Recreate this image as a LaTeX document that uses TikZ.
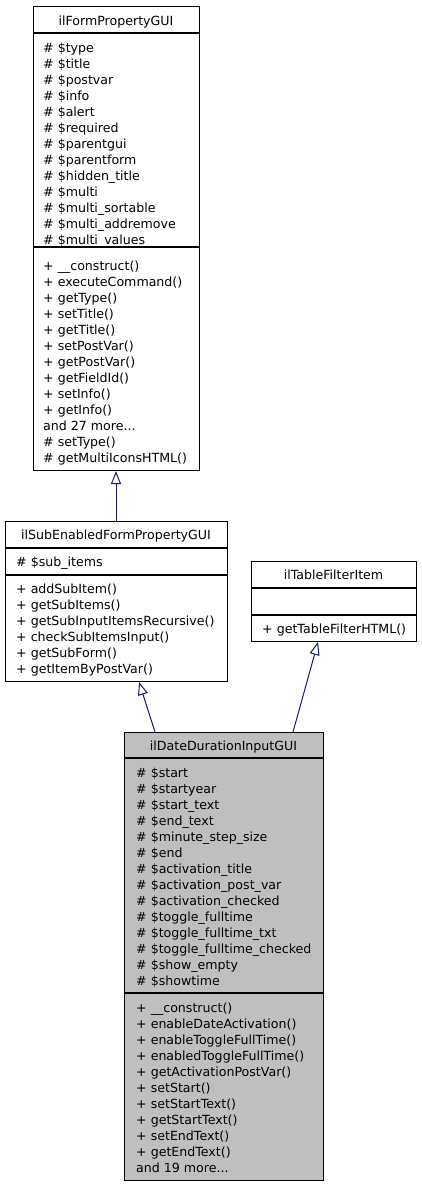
\documentclass[tikz,border=0pt]{standalone}
\usepackage{fontspec}
\setmainfont{DejaVu Sans}
\usetikzlibrary{arrows.meta,calc}
\definecolor{edgeblue}{HTML}{191970}
\definecolor{boxgray}{HTML}{BFBFBF}
\newcommand{\tdotsx}{...}
\begin{document}
\begin{tikzpicture}[x=1pt,y=-1pt,
  txt/.style={anchor=mid west, inner sep=0pt, yshift=-2.5pt, font=\fontsize{12.6}{15}\selectfont},
  ttl/.style={anchor=mid, inner sep=0pt, yshift=-2.5pt, font=\fontsize{12.6}{15}\selectfont},
  umlbox/.style={draw=black, line width=1pt, anchor=north west, inner sep=0pt},
  sepline/.style={draw=black, line width=1.3pt},
  inh/.style={draw=edgeblue, line width=1pt, -{Triangle[open,length=13pt,width=10pt]}}]
\useasboundingbox (0,0) rectangle (421,1187);

% ilFormPropertyGUI
\node[umlbox, fill=white, minimum width=166pt, minimum height=464pt] (fp) at (33,6) {};
\draw[sepline] (33,33) -- (199,33);
\draw[sepline] (33,247) -- (199,247);
\node[ttl] (fpt) at (116,20) {ilFormPropertyGUI};
\foreach \t [count=\i] in {\# \$type, \# \$title, \# \$postvar, \# \$info, \# \$alert, \# \$required, \# \$parentgui, \# \$parentform, \# \$hidden\_title, \# \$multi, \# \$multi\_sortable, \# \$multi\_addremove, \# \$multi\_values}
  \node[txt] (fpa\i) at (43,{47+16*(\i-1)}) {\t};
\foreach \t [count=\i] in {+ \_\_construct(), + executeCommand(), + getType(), + setTitle(), + getTitle(), + setPostVar(), + getPostVar(), + getFieldId(), + setInfo(), + getInfo(), and 27 more\tdotsx, \# setType(), \# getMultiIconsHTML()}
  \node[txt] (fpm\i) at (43,{265+16*(\i-1)}) {\t};

% ilSubEnabledFormPropertyGUI
\node[umlbox, fill=white, minimum width=222pt, minimum height=160pt] (se) at (5,521) {};
\draw[sepline] (5,548) -- (227,548);
\draw[sepline] (5,575) -- (227,575);
\node[ttl] (set) at (116,534) {ilSubEnabledFormPropertyGUI};
\node[txt] (sea1) at (16,561) {\# \$sub\_items};
\foreach \t [count=\i] in {+ addSubItem(), + getSubItems(), + getSubInputItemsRecursive(), + checkSubItemsInput(), + getSubForm(), + getItemByPostVar()}
  \node[txt] (sem\i) at (16,{588+16*(\i-1)}) {\t};

% ilTableFilterItem
\node[umlbox, fill=white, minimum width=165pt, minimum height=80pt] (tf) at (251,561) {};
\draw[sepline] (251,588) -- (416,588);
\draw[sepline] (251,615) -- (416,615);
\node[ttl] (tft) at (333.5,574) {ilTableFilterItem};
\node[txt] (tfm1) at (262,628) {+ getTableFilterHTML()};

% ilDateDurationInputGUI
\node[umlbox, fill=boxgray, minimum width=199pt, minimum height=448pt] (dd) at (124,732) {};
\draw[sepline] (124,758) -- (323,758);
\draw[sepline] (124,993) -- (323,993);
\node[ttl] (ddt) at (223.5,745) {ilDateDurationInputGUI};
\foreach \t [count=\i] in {\# \$start, \# \$startyear, \# \$start\_text, \# \$end\_text, \# \$minute\_step\_size, \# \$end, \# \$activation\_title, \# \$activation\_post\_var, \# \$activation\_checked, \# \$toggle\_fulltime, \# \$toggle\_fulltime\_txt, \# \$toggle\_fulltime\_checked, \# \$show\_empty, \# \$showtime}
  \node[txt] (dda\i) at (136,{772+16*(\i-1)}) {\t};
\foreach \t [count=\i] in {+ \_\_construct(), + enableDateActivation(), + enableToggleFullTime(), + enabledToggleFullTime(), + getActivationPostVar(), + setStart(), + setStartText(), + getStartText(), + setEndText(), + getEndText(), and 19 more\tdotsx}
  \node[txt] (ddm\i) at (136,{1007+16*(\i-1)}) {\t};

% inheritance
\draw[inh] ($(se.north west)+(111,0)$) -- ($(fp.south west)+(83,0)$);
\draw[inh] ($(dd.north west)+(31,0)$) -- ($(se.south west)+(134,0)$);
\draw[inh] ($(dd.north west)+(169,0)$) -- ($(tf.south west)+(67,0)$);
\end{tikzpicture}
\end{document}
